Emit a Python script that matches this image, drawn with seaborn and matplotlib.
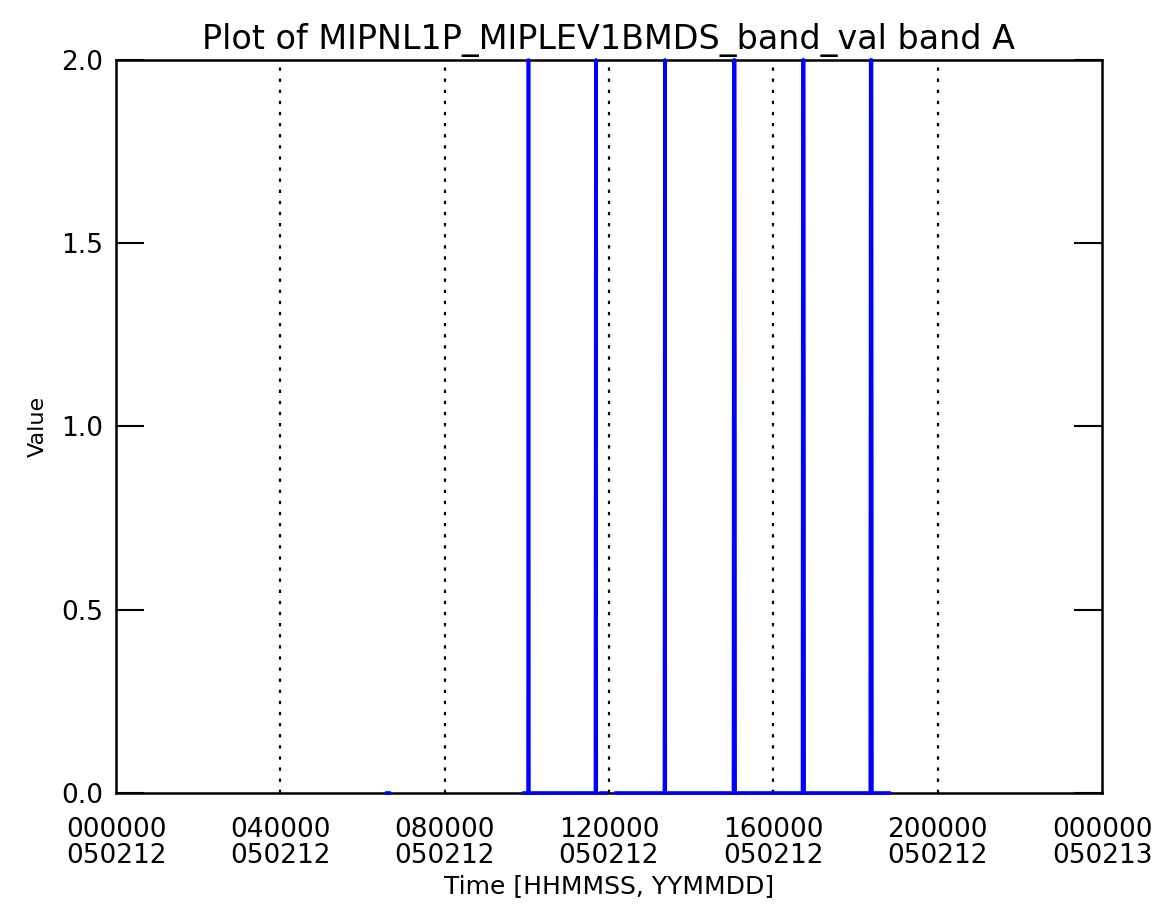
import numpy as np
import pandas as pd
import matplotlib
matplotlib.use("Agg")
import matplotlib.pyplot as plt
import seaborn as sns

# --- data (hours since 2005-02-12 00:00) ---
tick_hours = [0, 4, 8, 12, 16, 20, 24]
tick_labels = ["000000\n050212", "040000\n050212", "080000\n050212", "120000\n050212",
               "160000\n050212", "200000\n050212", "000000\n050213"]
grid_hours = [4, 8, 12, 16, 20]

# segment id, time (h), value
seg_ids = [0, 0,
           1, 1, 1, 1, 1, 1, 1, 1,
           2, 2,
           3, 3, 3, 3, 3, 3, 3, 3, 3, 3, 3, 3, 3, 3, 3, 3, 3]
times = [6.58, 6.66,
         9.91, 10.03, 10.04, 10.05, 11.67, 11.68, 11.69, 11.70,
         11.78, 11.95,
         12.15, 13.35, 13.36, 13.37, 15.03, 15.04, 15.06, 15.07,
         16.71, 16.72, 16.74, 16.75, 18.36, 18.37, 18.39, 18.40, 18.84]
values = [0.0, 0.0,
          0.0, 0.0, 2.0, 0.0, 0.0, 2.0, 0.0, 0.0,
          0.0, 0.0,
          0.0, 0.0, 2.0, 0.0, 0.0, 2.0, 2.0, 0.0,
          0.0, 2.0, 2.0, 0.0, 0.0, 2.0, 2.0, 0.0, 0.0]

df = pd.DataFrame({"seg": seg_ids, "t": times, "v": values})

sns.set_theme(style="white")
plt.rcParams["font.family"] = ["DejaVu Sans"]
for k in ["text.color", "axes.labelcolor", "xtick.color", "ytick.color"]:
    plt.rcParams[k] = "black"

fig = plt.figure(figsize=(11.6, 9.07), dpi=100)
ax = fig.add_axes([0.1, 0.1257, 0.85, 0.8082])

for x in grid_hours:
    ax.axvline(x, color="black", linestyle=(0, (1.5, 3.5)), linewidth=1.6, zorder=1)
n_grid = len(ax.get_lines())

sns.lineplot(data=df, x="t", y="v", units="seg", estimator=None, sort=False,
             color="#0000ff", linewidth=2.6, ax=ax, zorder=4, legend=False)
for ln in ax.get_lines()[n_grid:]:
    ln.set_clip_on(False)
    ln.set_zorder(4)

ax.set_xlim(0, 24)
ax.set_ylim(0, 2.0)
ax.set_xticks(tick_hours)
ax.set_xticklabels(tick_labels, fontsize=19, linespacing=1.0)
ax.set_yticks([0.0, 0.5, 1.0, 1.5, 2.0])
ax.set_yticklabels(["0.0", "0.5", "1.0", "1.5", "2.0"], fontsize=19)
ax.tick_params(axis="x", length=0, pad=17)
ax.tick_params(axis="y", direction="in", length=20, width=1.5, left=True, right=True, pad=9,
               color="black")
for s in ax.spines.values():
    s.set_color("black")
    s.set_linewidth(1.8)

ax.set_xlabel("Time [HHMMSS, YYMMDD]", fontsize=18, labelpad=4)
ax.set_ylabel("Value", fontsize=16, labelpad=10)
ax.set_title("Plot of MIPNL1P_MIPLEV1BMDS_band_val band A", fontsize=24, pad=8)

fig.savefig("out.png", dpi=100, facecolor="white")
